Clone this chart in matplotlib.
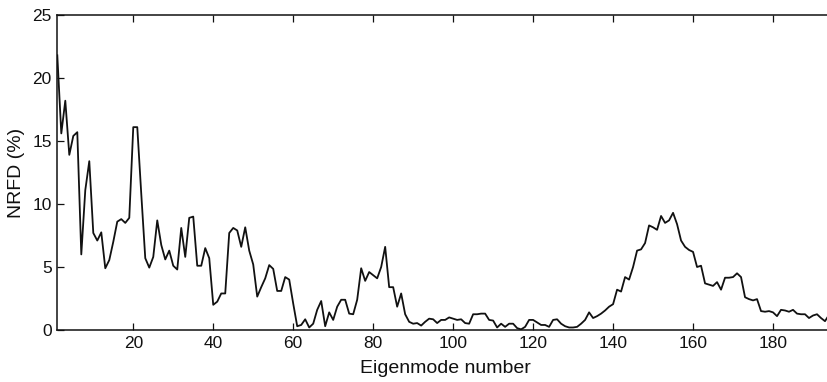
import matplotlib
matplotlib.use("Agg")
import matplotlib.pyplot as plt
import numpy as np

# NRFD per eigenmode
mode_number = np.arange(1, 196)
nrfd = [
    21.8, 15.6, 18.2, 13.9, 15.4, 15.7, 6.0, 11.1, 13.4, 7.7,
    7.1, 7.75, 4.9, 5.55, 7.0, 8.6, 8.8, 8.5, 8.9, 16.1,
    16.1, 10.8, 5.7, 4.95, 5.8, 8.7, 6.75, 5.6, 6.3, 5.1,
    4.8, 8.1, 5.8, 8.9, 9.0, 5.1, 5.1, 6.5, 5.7, 2.0,
    2.25, 2.9, 2.9, 7.7, 8.1, 7.9, 6.6, 8.15, 6.3, 5.2,
    2.65, 3.4, 4.1, 5.15, 4.85, 3.1, 3.1, 4.2, 4.0, 2.1,
    0.3, 0.4, 0.85, 0.2, 0.5, 1.6, 2.3, 0.3, 1.4, 0.8,
    1.85, 2.4, 2.4, 1.3, 1.25, 2.4, 4.9, 3.9, 4.6, 4.35,
    4.1, 5.0, 6.6, 3.4, 3.4, 1.85, 2.9, 1.25, 0.65, 0.5,
    0.55, 0.35, 0.65, 0.9, 0.85, 0.55, 0.8, 0.8, 1.0, 0.9,
    0.8, 0.85, 0.55, 0.5, 1.25, 1.25, 1.3, 1.3, 0.8, 0.75,
    0.2, 0.5, 0.25, 0.5, 0.5, 0.15, 0.05, 0.25, 0.8, 0.8,
    0.6, 0.4, 0.4, 0.25, 0.8, 0.85, 0.5, 0.3, 0.2, 0.2,
    0.25, 0.5, 0.8, 1.4, 0.95, 1.1, 1.3, 1.55, 1.85, 2.05,
    3.2, 3.05, 4.2, 4.0, 5.0, 6.3, 6.4, 6.9, 8.3, 8.15,
    7.95, 9.05, 8.5, 8.7, 9.3, 8.4, 7.1, 6.6, 6.35, 6.2,
    5.0, 5.1, 3.7, 3.6, 3.5, 3.8, 3.2, 4.15, 4.15, 4.2,
    4.5, 4.2, 2.6, 2.45, 2.35, 2.45, 1.5, 1.45, 1.5, 1.4,
    1.1, 1.6, 1.55, 1.45, 1.6, 1.3, 1.25, 1.25, 0.95, 1.15,
    1.25, 0.95, 0.7, 1.2, 1.2,
]
x_ticks = [20, 40, 60, 80, 100, 120, 140, 160, 180]
y_ticks = [0, 5, 10, 15, 20, 25]

plt.rcParams['font.family'] = ['Liberation Sans', 'DejaVu Sans']
plt.rcParams['font.size'] = 12.5

fig = plt.figure(figsize=(8.28, 3.82), dpi=100)
ax = fig.add_axes([57.3 / 828, 52 / 382, 775.7 / 828, 315 / 382])

ax.plot(mode_number, nrfd, color='#111111', lw=1.3)

ax.set_xlim(1, 195)
ax.set_ylim(0, 25)
ax.set_xticks(x_ticks)
ax.set_yticks(y_ticks)
ax.tick_params(direction='in', top=True, right=False, length=5, width=0.9,
               colors='#111111', pad=4)
for s in ax.spines.values():
    s.set_linewidth(1.1)
    s.set_color('#111111')

ax.set_xlabel("Eigenmode number", fontsize=14, labelpad=7, color='#111111')
ax.set_ylabel("NRFD (%)", fontsize=14, labelpad=5, color='#111111')

fig.savefig("out.png", dpi=100)
